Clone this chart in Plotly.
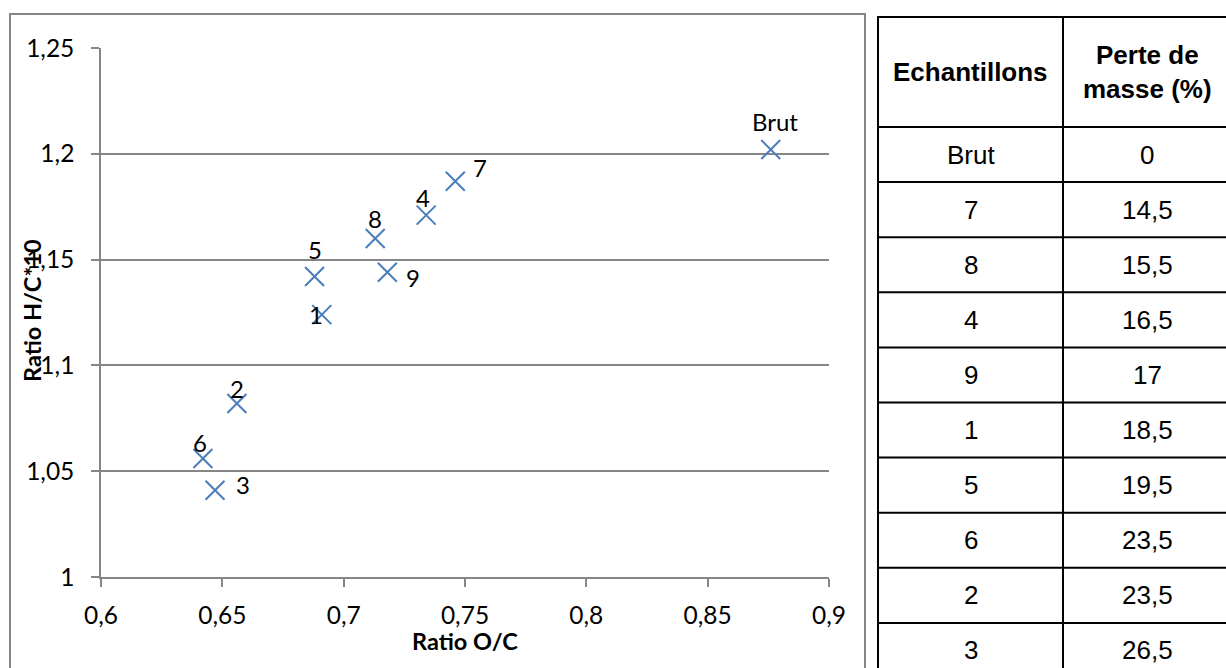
import plotly.graph_objects as go

# ---------------- data ----------------
samples = ["Brut", "7", "4", "8", "9", "5", "1", "2", "6", "3"]
ratio_oc = [0.876, 0.746, 0.734, 0.713, 0.718, 0.688, 0.691, 0.656, 0.642, 0.647]
ratio_hc = [1.202, 1.187, 1.171, 1.160, 1.144, 1.142, 1.124, 1.082, 1.056, 1.041]

x_ticks = [0.6, 0.65, 0.7, 0.75, 0.8, 0.85, 0.9]
x_tick_labels = ["0,6", "0,65", "0,7", "0,75", "0,8", "0,85", "0,9"]
y_ticks = [1.0, 1.05, 1.1, 1.15, 1.2, 1.25]
y_tick_labels = ["1", "1,05", "1,1", "1,15", "1,2", "1,25"]

table_header = ["Echantillons", "Perte de<br>masse (%)"]
table_samples = ["Brut", "7", "8", "4", "9", "1", "5", "6", "2", "3"]
table_loss = [0, 14.5, 15.5, 16.5, 17, 18.5, 19.5, 23.5, 23.5, 26.5]

x_title = "Ratio O/C"
y_title = "Ratio H/C*10"

# ---------------- style / layout ----------------
W, H = 1226, 668
PL, PR, PT, PB = 101, 829, 48, 577  # plot area in pixels
GRAY = "#868686"
BLUE = "#4a7ebb"
FONT = "Lato"
TFONT = "Liberation Sans"
TICK_SIZE = 24.5
LABEL_SIZE = 24
TITLE_SIZE = 23.5
TABLE_SIZE = 26

# label offsets (pixels) for each sample's data label
label_offsets = {
    "Brut": (4, -28), "7": (25, -14), "4": (-3, -18), "8": (0, -20),
    "9": (26, 5), "5": (0, -27), "1": (-6, 0), "2": (0, -15),
    "6": (-3, -16), "3": (28, -6),
}


def px_x(p):
    return (p - PL) / (PR - PL)


def px_y(p):
    return (PB - p) / (PB - PT)


fig = go.Figure()
fig.add_trace(go.Scatter(
    x=ratio_oc, y=ratio_hc, mode="markers",
    marker=dict(symbol="x-thin", size=19, line=dict(color=BLUE, width=2)),
    cliponaxis=False, showlegend=False, hoverinfo="x+y",
))

annotations = []
for s, xv, yv in zip(samples, ratio_oc, ratio_hc):
    dx, dy = label_offsets[s]
    annotations.append(dict(
        x=xv, y=yv, xref="x", yref="y", text=s, showarrow=False,
        xshift=dx, yshift=-dy, font=dict(family=FONT, size=LABEL_SIZE, color="black"),
    ))

# axis titles
annotations.append(dict(
    x=px_x(465), y=px_y(641), xref="paper", yref="paper", text="<b>" + x_title + "</b>",
    showarrow=False, font=dict(family=FONT, size=TITLE_SIZE, color="black"),
    xanchor="center", yanchor="middle",
))
annotations.append(dict(
    x=px_x(32), y=px_y(311), xref="paper", yref="paper", text="<b>" + y_title + "</b>",
    showarrow=False, textangle=-90, font=dict(family=FONT, size=TITLE_SIZE, color="black"),
    xanchor="center", yanchor="middle",
))

shapes = []
# chart border
shapes.append(dict(type="rect", xref="paper", yref="paper",
                   x0=px_x(10), x1=px_x(865), y0=px_y(14), y1=px_y(700),
                   line=dict(color=GRAY, width=2), fillcolor="rgba(0,0,0,0)"))

# table geometry
TL, TM, TR = 878, 1063, 1232
T_TOP, HDR_BOTTOM, ROW_H = 17, 127, 55.1
n_rows = len(table_samples)
bottom = HDR_BOTTOM + ROW_H * n_rows
ys = [T_TOP, HDR_BOTTOM] + [HDR_BOTTOM + ROW_H * (i + 1) for i in range(n_rows)]
for yy in ys:
    shapes.append(dict(type="line", xref="paper", yref="paper",
                       x0=px_x(TL - 1), x1=px_x(TR), y0=px_y(yy), y1=px_y(yy),
                       line=dict(color="black", width=2)))
for xx in (TL, TM, TR):
    shapes.append(dict(type="line", xref="paper", yref="paper",
                       x0=px_x(xx), x1=px_x(xx), y0=px_y(T_TOP), y1=px_y(bottom),
                       line=dict(color="black", width=2)))

col_centers = [(TL + TM) / 2, 1147]
hdr_cy = (T_TOP + HDR_BOTTOM) / 2
for cx, txt in zip(col_centers, table_header):
    annotations.append(dict(
        x=px_x(cx), y=px_y(hdr_cy), xref="paper", yref="paper",
        text="<b>" + txt + "</b>", showarrow=False,
        font=dict(family=TFONT, size=TABLE_SIZE, color="black"),
        xanchor="center", yanchor="middle",
    ))


def fr(v):
    s = ("%g" % v)
    return s.replace(".", ",")


for i, (s, v) in enumerate(zip(table_samples, table_loss)):
    cy = HDR_BOTTOM + ROW_H * (i + 0.5)
    for cx, txt in zip(col_centers, (s, fr(v))):
        annotations.append(dict(
            x=px_x(cx), y=px_y(cy), xref="paper", yref="paper",
            text=txt, showarrow=False,
            font=dict(family=TFONT, size=TABLE_SIZE, color="black"),
            xanchor="center", yanchor="middle",
        ))

fig.update_layout(
    width=W, height=H,
    margin=dict(l=PL, r=W - PR, t=PT, b=H - PB, pad=0),
    paper_bgcolor="white", plot_bgcolor="white",
    separators=", ",
    showlegend=False,
    xaxis=dict(
        range=[0.6, 0.9], tickvals=x_ticks, ticktext=x_tick_labels,
        showgrid=False, zeroline=False, showline=True, linecolor=GRAY, linewidth=1.5,
        ticks="outside", ticklen=8, tickcolor=GRAY, tickwidth=1.5,
        tickfont=dict(family=FONT, size=TICK_SIZE, color="black"), ticklabelstandoff=8,
    ),
    yaxis=dict(
        range=[1.0, 1.25], tickvals=y_ticks, ticktext=y_tick_labels,
        showgrid=True, gridcolor=GRAY, gridwidth=1.5,
        zeroline=False, showline=True, linecolor=GRAY, linewidth=1.5,
        ticks="outside", ticklen=8, tickcolor=GRAY, tickwidth=1.5,
        tickfont=dict(family=FONT, size=TICK_SIZE, color="black"), ticklabelstandoff=12,
    ),
    shapes=shapes, annotations=annotations,
)

fig.write_html(
    "out.html",
    config={"displayModeBar": False},
    post_script="document.body.style.margin='0px';document.body.style.overflow='hidden';",
)
